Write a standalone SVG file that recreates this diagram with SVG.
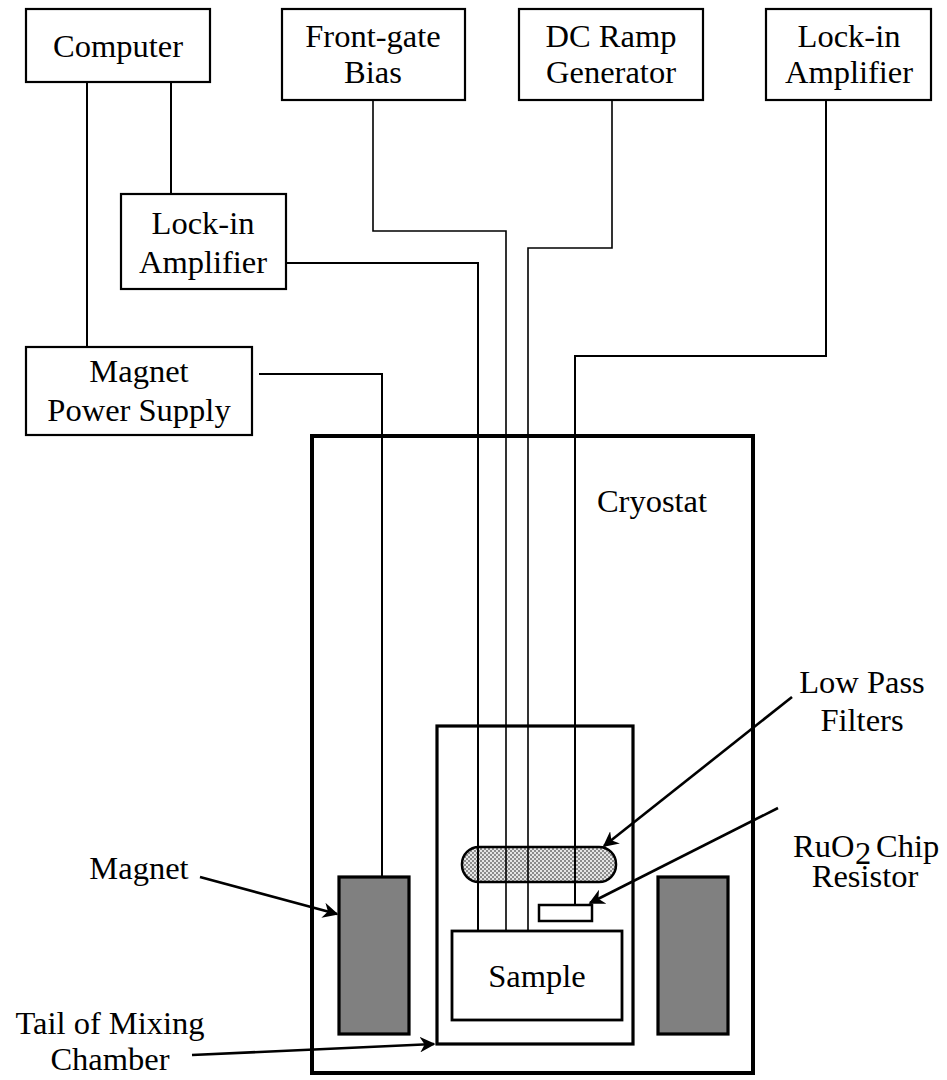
<svg xmlns="http://www.w3.org/2000/svg" width="947" height="1080" viewBox="0 0 947 1080">
<defs>
<style>
text{font-family:"Liberation Serif","Times New Roman",serif;font-size:32.5px;fill:#000;text-anchor:middle}
text.l{text-anchor:start}
.box{fill:#fff;stroke:#000;stroke-width:2.2}
.wire{fill:none;stroke:#000;stroke-width:2}
.thin{fill:none;stroke:#000;stroke-width:1.6}
.arrow{fill:none;stroke:#000;stroke-width:2.6;marker-end:url(#ah)}
.mag{fill:#808080;stroke:#000;stroke-width:3.2}
</style>
<marker id="ah" viewBox="0 0 10 10" refX="9" refY="5" markerWidth="6" markerHeight="6" orient="auto" markerUnits="strokeWidth">
<path d="M0,0 L10,5 L0,10 L3,5 z" fill="#000"/>
</marker>
<pattern id="checker" width="4" height="4" patternUnits="userSpaceOnUse">
<rect width="4" height="4" fill="#e6e6e6"/>
<rect width="2" height="2" fill="#8c8c8c"/>
<rect x="2" y="2" width="2" height="2" fill="#8c8c8c"/>
</pattern>
</defs>
<rect width="947" height="1080" fill="#fff"/>

<g font-family="Liberation Serif, Times New Roman, serif">
<g id="cryostat">
<rect x="312" y="436" width="441" height="637" fill="none" stroke="#000" stroke-width="4"/>
<text x="652" y="512">Cryostat</text>
</g>
<g id="mixing-chamber">
<rect x="437" y="726" width="196" height="318" fill="none" stroke="#000" stroke-width="3.2"/>
</g>
<g id="low-pass-filters">
<rect x="462" y="847" width="154" height="35" rx="17" ry="17" fill="url(#checker)" stroke="#000" stroke-width="2.5"/>
</g>

<g id="connectors">
<polyline class="wire" points="87,82 87,347"/>
<polyline class="wire" points="171,82 171,205"/>
<polyline class="wire" points="286,263 478,263 478,931"/>
<polyline class="thin" points="373,100 373,231 506,231 506,931"/>
<polyline class="thin" points="612,100 612,248 528,248 528,931"/>
<polyline class="wire" points="826,100 826,356 575,356 575,905"/>
<polyline class="wire" points="259,374 382,374 382,877"/>
<line class="arrow" x1="200" y1="877" x2="337" y2="914"/>
<line class="arrow" x1="192" y1="1055" x2="434" y2="1044"/>
<line class="arrow" x1="792" y1="697" x2="604" y2="846"/>
<line class="arrow" x1="778" y1="808" x2="590" y2="903"/>
</g>

<g id="computer">
<rect class="box" x="26" y="9" width="184" height="73"/>
<text x="118" y="57">Computer</text>
</g>
<g id="front-gate-bias">
<rect class="box" x="282" y="9" width="183" height="91"/>
<text x="373" y="47">Front-gate</text>
<text x="373" y="83">Bias</text>
</g>
<g id="dc-ramp-generator">
<rect class="box" x="519" y="9" width="184" height="91"/>
<text x="611" y="47">DC Ramp</text>
<text x="611" y="83">Generator</text>
</g>
<g id="lock-in-amplifier-top">
<rect class="box" x="766" y="9" width="165" height="91"/>
<text x="849" y="47">Lock-in</text>
<text x="849" y="83">Amplifier</text>
</g>
<g id="lock-in-amplifier-mid">
<rect class="box" x="121" y="194" width="165" height="95"/>
<text x="203" y="234">Lock-in</text>
<text x="203" y="273">Amplifier</text>
</g>
<g id="magnet-power-supply">
<rect class="box" x="26" y="347" width="226" height="88"/>
<text x="139" y="382">Magnet</text>
<text x="139" y="421">Power Supply</text>
</g>

<g id="magnet-left"><rect class="mag" x="339" y="877" width="70" height="157"/></g>
<g id="magnet-right"><rect class="mag" x="658" y="877" width="70" height="157"/></g>

<g id="ruo2-chip">
<rect x="539" y="905" width="53" height="16" fill="#fff" stroke="#000" stroke-width="2.5"/>
</g>
<g id="sample">
<rect x="452" y="931" width="170" height="89" fill="#fff" stroke="#000" stroke-width="2.8"/>
<text x="537" y="987">Sample</text>
</g>

<g id="labels">
<text x="139" y="879">Magnet</text>
<text x="110" y="1034">Tail of Mixing</text>
<text x="110" y="1070">Chamber</text>
<text x="862" y="693">Low Pass</text>
<text x="862" y="731">Filters</text>
<text class="l" x="793" y="857">RuO</text>
<text class="l" x="855" y="864" font-size="20">2</text>
<text class="l" x="876" y="857">Chip</text>
<text x="865" y="887">Resistor</text>
</g>
</g>
</svg>
